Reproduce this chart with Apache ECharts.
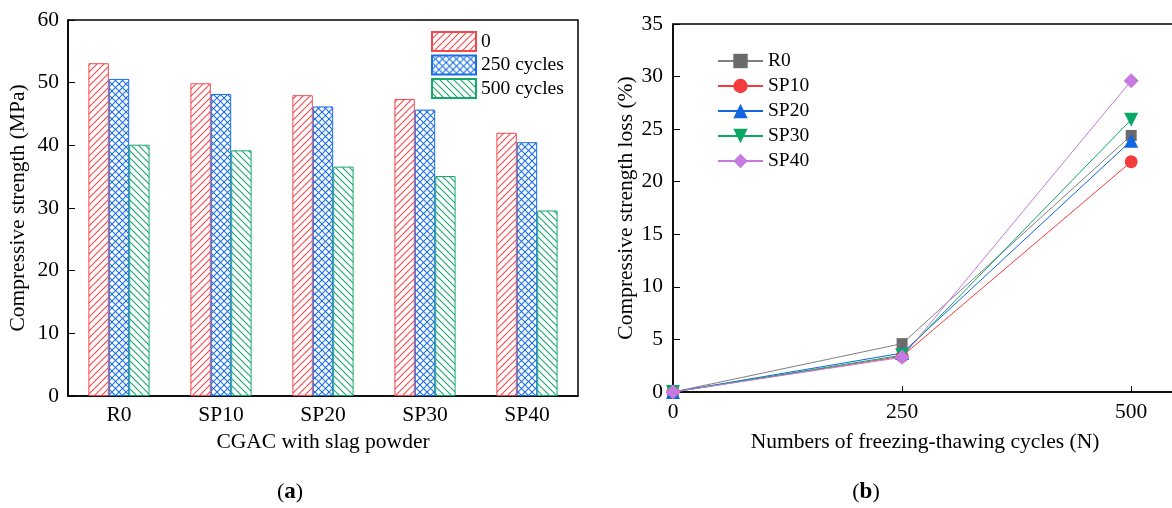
<!DOCTYPE html>
<html>
<head>
<meta charset="utf-8">
<script src="https://cdn.jsdelivr.net/npm/echarts@6/dist/echarts.min.js"></script>
<style>
html,body{margin:0;padding:0;background:#fff;}
#c{width:1172px;height:508px;}
</style>
</head>
<body>
<div id="c"></div>
<script>
// ---- data ----
const categories = ['R0', 'SP10', 'SP20', 'SP30', 'SP40'];
const barSeriesNames = ['0', '250 cycles', '500 cycles'];
const strength0 = [53.1, 49.9, 48.0, 47.4, 42.0];
const strength250 = [50.6, 48.2, 46.2, 45.7, 40.5];
const strength500 = [40.1, 39.2, 36.6, 35.1, 29.6];

const cycles = [0, 250, 500];
const lineSeriesNames = ['R0', 'SP10', 'SP20', 'SP30', 'SP40'];
const lossR0 = [0, 4.6, 24.4];
const lossSP10 = [0, 3.4, 21.9];
const lossSP20 = [0, 3.7, 23.9];
const lossSP30 = [0, 3.5, 25.9];
const lossSP40 = [0, 3.3, 29.6];

// ---- hatch patterns ----
function hatch(color, type) {
  const s = 7;
  const c = document.createElement('canvas');
  c.width = s; c.height = s;
  const g = c.getContext('2d');
  g.fillStyle = '#fff';
  g.fillRect(0, 0, s, s);
  g.strokeStyle = color;
  g.lineWidth = 1.1;
  function fwd() {
    for (let k = -1; k <= 1; k++) {
      g.beginPath(); g.moveTo(k * s - 1, s + 1); g.lineTo(k * s + s + 1, -1); g.stroke();
    }
  }
  function back() {
    for (let k = -1; k <= 1; k++) {
      g.beginPath(); g.moveTo(k * s - 1, -1); g.lineTo(k * s + s + 1, s + 1); g.stroke();
    }
  }
  if (type === 'fwd') fwd();
  else if (type === 'back') back();
  else { fwd(); back(); }
  return { image: c, repeat: 'repeat' };
}

const red = '#f2484c', blue = '#1a6ee6', green = '#16a86a';
const font = 'Liberation Serif';

const chart = echarts.init(document.getElementById('c'), null, { renderer: 'canvas' });

function barSeries(name, data, color, type) {
  return {
    name: name, type: 'bar', xAxisIndex: 0, yAxisIndex: 0, data: data,
    barGap: '0%', barCategoryGap: '40%',
    itemStyle: { color: hatch(color, type), borderColor: color, borderWidth: 1 },
    emphasis: { disabled: true }
  };
}
function lineSeries(name, data, color, lineColor, symbol, size) {
  return {
    name: name, type: 'line', xAxisIndex: 1, yAxisIndex: 1,
    data: cycles.map((x, i) => [x, data[i]]),
    symbol: symbol, symbolSize: size,
    lineStyle: { color: lineColor, width: 1 },
    itemStyle: { color: color },
    emphasis: { disabled: true }
  };
}

const axisTextStyle = { fontFamily: font, fontSize: 21.5, color: '#000' };
const nameStyle = { fontFamily: font, fontSize: 21.5, color: '#000' };
const subRich = {
  p: { fontFamily: font, fontSize: 22, fill: '#000' },
  b: { fontFamily: font, fontSize: 23, fontWeight: 'bold', fill: '#000' }
};

const option = {
  animation: false,
  backgroundColor: '#fff',
  textStyle: { fontFamily: font },
  grid: [
    { left: 68, top: 20, width: 510, height: 376, show: true, borderColor: '#000', borderWidth: 1.5, outerBoundsMode: 'none', containLabel: false },
    { left: 673, top: 24, width: 504, height: 368, show: true, borderColor: '#000', borderWidth: 1.5, outerBoundsMode: 'none', containLabel: false }
  ],
  legend: [
    {
      data: barSeriesNames, left: 426, top: 26, orient: 'vertical', icon: 'rect',
      itemWidth: 44, itemHeight: 19, itemGap: 2.5,
      textStyle: { fontFamily: font, fontSize: 19.5, color: '#000', lineHeight: 18 },
      selectedMode: false
    },
    {
      data: lineSeriesNames, left: 712, top: 46, orient: 'vertical',
      itemWidth: 45, itemHeight: 18, itemGap: 5,
      textStyle: { fontFamily: font, fontSize: 19.5, color: '#000', lineHeight: 17 },
      selectedMode: false
    }
  ],
  xAxis: [
    {
      gridIndex: 0, type: 'category', data: categories,
      name: 'CGAC with slag powder', nameLocation: 'middle', nameGap: 34,
      nameTextStyle: nameStyle,
      axisLine: { lineStyle: { color: '#000', width: 1.5 } },
      axisTick: { inside: true, length: 6, lineStyle: { color: '#000', width: 1 } },
      axisLabel: Object.assign({ margin: 8 }, axisTextStyle),
      splitLine: { show: false }
    },
    {
      gridIndex: 1, type: 'value', min: 0, max: 550, interval: 250,
      name: 'Numbers of freezing-thawing cycles (N)', nameLocation: 'middle', nameGap: 39,
      nameTextStyle: nameStyle,
      axisLine: { lineStyle: { color: '#000', width: 1.5 } },
      axisTick: { inside: true, length: 6, lineStyle: { color: '#000', width: 1 } },
      axisLabel: Object.assign({ margin: 9, showMaxLabel: false }, axisTextStyle),
      splitLine: { show: false }
    }
  ],
  yAxis: [
    {
      gridIndex: 0, type: 'value', min: 0, max: 60, interval: 10,
      name: 'Compressive strength (MPa)', nameLocation: 'middle', nameGap: 39,
      nameTextStyle: nameStyle,
      axisLine: { show: true, lineStyle: { color: '#000', width: 1.5 } },
      axisTick: { show: true, inside: true, length: 7, lineStyle: { color: '#000', width: 1 } },
      axisLabel: Object.assign({ margin: 9 }, axisTextStyle),
      splitLine: { show: false }
    },
    {
      gridIndex: 1, type: 'value', min: 0, max: 35, interval: 5,
      name: 'Compressive strength loss (%)', nameLocation: 'middle', nameGap: 35,
      nameTextStyle: nameStyle,
      axisLine: { show: true, lineStyle: { color: '#000', width: 1.5 } },
      axisTick: { show: true, inside: true, length: 7, lineStyle: { color: '#000', width: 1 } },
      axisLabel: Object.assign({ margin: 10 }, axisTextStyle),
      splitLine: { show: false }
    }
  ],
  series: [
    barSeries(barSeriesNames[0], strength0, red, 'fwd'),
    barSeries(barSeriesNames[1], strength250, blue, 'cross'),
    barSeries(barSeriesNames[2], strength500, green, 'back'),
    lineSeries(lineSeriesNames[0], lossR0, '#6b6b6b', '#808080', 'rect', 11),
    lineSeries(lineSeriesNames[1], lossSP10, '#f53c3c', '#f53c3c', 'circle', 13),
    lineSeries(lineSeriesNames[2], lossSP20, '#0f66e0', '#0f66e0', 'triangle', 14),
    lineSeries(lineSeriesNames[3], lossSP30, '#0aa864', '#0aa864', 'path://M0,0L10,0L5,9Z', 14),
    lineSeries(lineSeriesNames[4], lossSP40, '#c67ae0', '#c67ae0', 'diamond', 15)
  ],
  graphic: [
    { type: 'text', style: { text: '{p|(}{b|a}{p|)}', x: 290, y: 492, align: 'center', verticalAlign: 'middle', rich: subRich } },
    { type: 'text', style: { text: '{p|(}{b|b}{p|)}', x: 866, y: 492, align: 'center', verticalAlign: 'middle', rich: subRich } }
  ]
};
chart.setOption(option);
</script>
</body>
</html>
